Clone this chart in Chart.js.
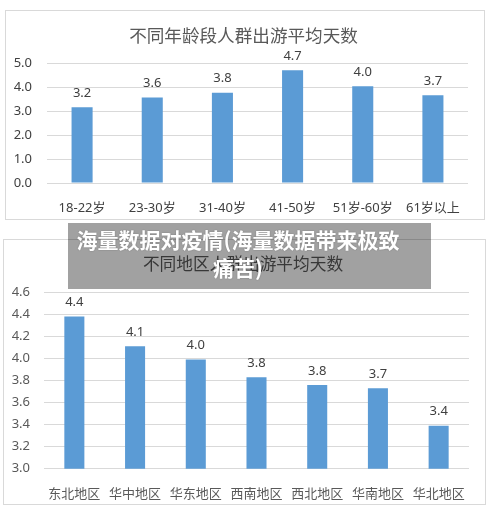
<!DOCTYPE html>
<html>
<head>
<meta charset="utf-8">
<script src="https://cdn.jsdelivr.net/npm/chart.js@4"></script>
<style>
    body { margin: 0; width: 500px; height: 513px; background: #fff; position: relative; overflow: hidden; }
    .box { position: absolute; box-sizing: border-box; border: 1px solid #d9d9d9; background: #fff; }
    .box canvas { position: absolute; left: 0; top: 0; }
    .title {
        position: absolute; left: 0; text-align: center; line-height: 22px; color: #595959;
        font-family: 'Noto Sans CJK SC', sans-serif; white-space: nowrap;
    }
    #box-age { left: 5px; top: 10px; width: 480px; height: 210px; }
    #box-age .title { top: 12.5px; width: 475px; font-size: 17.6px; }
    #box-region { left: 3px; top: 239px; width: 483px; height: 266px; }
    #box-region .title { top: 12px; width: 478px; font-size: 16.7px; }
    #banner {
        position: absolute; left: 68px; top: 223px; width: 363px; height: 66px;
        background: rgba(0, 0, 0, 0.37);
    }
    #banner div {
        width: 340px; padding-top: 2px;
        font-family: 'Noto Sans CJK SC', sans-serif; font-weight: bold; font-size: 21px;
        line-height: 28px; color: #fff; text-align: center;
        text-shadow: 0 0 2px rgba(0, 0, 0, 0.25);
    }
</style>
</head>
<body>
<div class="box" id="box-age">
    <canvas id="chartAge" width="478" height="208"></canvas>
    <div class="title">不同年龄段人群出游平均天数</div>
</div>
<div class="box" id="box-region">
    <canvas id="chartRegion" width="481" height="264"></canvas>
    <div class="title">不同地区人群出游平均天数</div>
</div>
<div id="banner"><div>海量数据对疫情(海量数据带来极致痛苦)</div></div>

<script>
'use strict';

// 不同年龄段人群出游平均天数
const ageGroups = ['18-22岁', '23-30岁', '31-40岁', '41-50岁', '51岁-60岁', '61岁以上'];
const ageDays = [3.16, 3.56, 3.76, 4.7, 4.03, 3.66];
const ageTicks = [0, 1, 2, 3, 4, 5];

// 不同地区人群出游平均天数
const regions = ['东北地区', '华中地区', '华东地区', '西南地区', '西北地区', '华南地区', '华北地区'];
const regionDays = [4.38, 4.11, 3.99, 3.83, 3.76, 3.73, 3.39];
const regionTicks = [3.0, 3.2, 3.4, 3.6, 3.8, 4.0, 4.2, 4.4, 4.6];

Chart.defaults.font.family = "'Noto Sans', 'Noto Sans CJK SC', sans-serif";
Chart.defaults.animation = false;

const BLUE = '#5b9bd5';
const GRID = '#d9d9d9';

// value labels above each bar
const valueLabels = {
    id: 'valueLabels',
    afterDatasetsDraw(chart) {
        const ctx = chart.ctx;
        const meta = chart.getDatasetMeta(0);
        const values = chart.data.datasets[0].data;
        ctx.save();
        ctx.font = "13px 'Noto Sans', sans-serif";
        ctx.fillStyle = '#404040';
        ctx.textAlign = 'center';
        ctx.textBaseline = 'middle';
        meta.data.forEach(function (bar, i) {
            ctx.fillText(values[i].toFixed(1), bar.x, bar.y - 14);
        });
        ctx.restore();
    }
};

function makeChart(id, opts) {
    const ctx = document.getElementById(id).getContext('2d');
    return new Chart(ctx, {
        type: 'bar',
        data: {
            labels: opts.labels,
            datasets: [{
                data: opts.values,
                backgroundColor: BLUE,
                borderWidth: 0,
                categoryPercentage: 1,
                barPercentage: opts.barPct
            }]
        },
        options: {
            responsive: false,
            devicePixelRatio: 1,
            layout: { padding: { left: 0, right: 16, top: opts.top, bottom: 0 } },
            plugins: {
                legend: { display: false },
                tooltip: { enabled: false },
                title: { display: false }
            },
            scales: {
                x: {
                    grid: { display: false },
                    border: { display: false },
                    ticks: {
                        color: opts.textColor,
                        font: { size: 13 },
                        padding: opts.xPad,
                        maxRotation: 0,
                        autoSkip: false
                    },
                    afterFit: function (scale) { scale.height = opts.xHeight; }
                },
                y: {
                    min: opts.ticks[0],
                    max: opts.ticks[opts.ticks.length - 1],
                    afterBuildTicks: function (scale) {
                        scale.ticks = opts.ticks.map(v => ({ value: v }));
                    },
                    grid: { color: GRID, lineWidth: 1, drawTicks: false },
                    border: { display: false },
                    ticks: {
                        color: opts.textColor,
                        font: { size: 13 },
                        padding: opts.yPad,
                        callback: v => Number(v).toFixed(1)
                    },
                    afterFit: function (scale) { scale.width = opts.yWidth; }
                }
            }
        },
        plugins: [valueLabels]
    });
}

makeChart('chartAge', {
    labels: ageGroups,
    values: ageDays,
    ticks: ageTicks,
    top: 52,
    barPct: 0.3,
    textColor: '#404040',
    xPad: 9,
    xHeight: 36,
    yPad: 15,
    yWidth: 41
});

makeChart('chartRegion', {
    labels: regions,
    values: regionDays,
    ticks: regionTicks,
    top: 52.3,
    barPct: 0.33,
    textColor: '#595959',
    xPad: 10,
    xHeight: 35.3,
    yPad: 14,
    yWidth: 40
});
</script>
</body>
</html>
